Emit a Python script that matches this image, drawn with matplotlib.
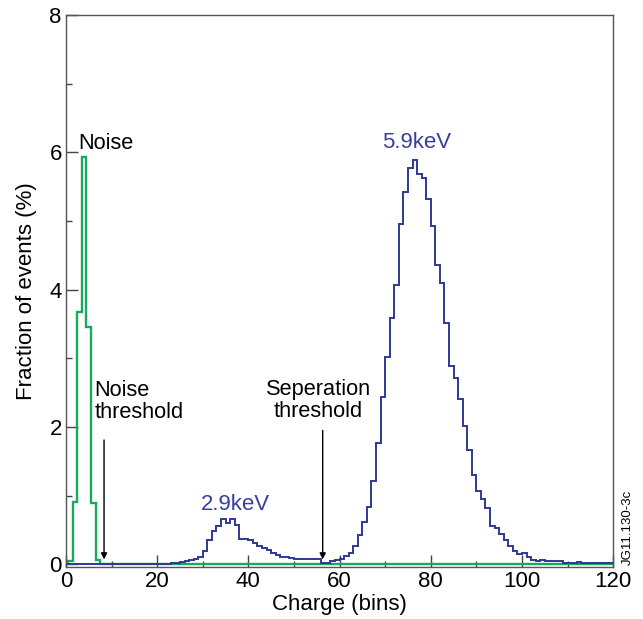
import numpy as np
import matplotlib
matplotlib.use("Agg")
import matplotlib.pyplot as plt
from matplotlib.ticker import MultipleLocator

plt.rcParams['font.family'] = ['Liberation Sans', 'DejaVu Sans']

# ---- data ----
charge_edges = np.arange(0, 121)          # blue histogram bin edges (bins of width 1)
signal = [
    # 0-19
    0.0, 0.0, 0.0, 0.0, 0.0, 0.0, 0.0, 0.0, 0.0, 0.0,
    0.0, 0.0, 0.0, 0.0, 0.0, 0.0, 0.01, 0.01, 0.01, 0.01,
    # 20-39
    0.01, 0.01, 0.01, 0.02, 0.02, 0.03, 0.05, 0.06, 0.08, 0.10,
    0.20, 0.35, 0.48, 0.55, 0.66, 0.60, 0.66, 0.57, 0.37, 0.37,
    # 40-59
    0.35, 0.31, 0.27, 0.24, 0.21, 0.17, 0.14, 0.11, 0.10, 0.09,
    0.08, 0.08, 0.07, 0.07, 0.07, 0.08, 0.02, 0.02, 0.05, 0.06,
    # 60-79
    0.08, 0.12, 0.17, 0.27, 0.42, 0.61, 0.83, 1.21, 1.77, 2.44,
    3.02, 3.58, 4.06, 4.96, 5.42, 5.77, 5.89, 5.68, 5.63, 5.32,
    # 80-99
    4.92, 4.36, 4.09, 3.52, 2.88, 2.71, 2.40, 2.02, 1.67, 1.30,
    1.07, 0.95, 0.82, 0.56, 0.53, 0.44, 0.36, 0.27, 0.19, 0.15,
    # 100-119
    0.16, 0.11, 0.06, 0.05, 0.06, 0.05, 0.05, 0.05, 0.05, 0.02,
    0.02, 0.02, 0.04, 0.02, 0.02, 0.02, 0.02, 0.02, 0.02, 0.02,
]
noise_centers = np.arange(0, 10)           # noise histogram bin centres
noise = [0.0, 0.05, 0.90, 3.68, 5.93, 3.46, 0.89, 0.06, 0.0, 0.0]

x_major = [0, 20, 40, 60, 80, 100, 120]
y_major = [0, 2, 4, 6, 8]

BLUE = '#2f3896'
GREEN = '#1aa85c'
TEXTBLUE = '#3a3f9c'

fig = plt.figure(figsize=(6.43, 6.19), dpi=100)
ax = fig.add_axes([0.1026, 0.084, 0.851, 0.892])

ax.stairs(signal, charge_edges, color=BLUE, lw=1.4, zorder=3)
noise_edges = np.concatenate([noise_centers - 0.5, [120]])
ax.stairs(noise, noise_edges, color=GREEN, lw=1.7, zorder=2)

ax.set_xlim(0, 120)
ax.set_ylim(-0.04, 8)
ax.set_xticks(x_major)
ax.set_yticks(y_major)
ax.xaxis.set_minor_locator(MultipleLocator(10))
ax.yaxis.set_minor_locator(MultipleLocator(1))
ax.tick_params(which='major', direction='in', length=8.5, width=1, labelsize=16, pad=3, color='#444')
ax.tick_params(which='minor', direction='in', length=4.3, width=1, color='#444')
ax.tick_params(top=False, right=False)
for s in ax.spines.values():
    s.set_color('#555555')
    s.set_linewidth(1.0)

ax.set_xlabel('Charge (bins)', fontsize=16, labelpad=1)
ax.set_ylabel('Fraction of events (%)', fontsize=16, labelpad=9)

ax.text(2.7, 6.12, 'Noise', fontsize=15.7, ha='left', va='center')
ax.text(6.3, 2.37, 'Noise\nthreshold', fontsize=15.7, ha='left', va='center', linespacing=1.05)
ax.annotate('', xy=(8.35, 0.03), xytext=(8.35, 1.85),
            arrowprops=dict(arrowstyle='-|>', color='black', lw=1.0, mutation_scale=9))
ax.text(55.3, 2.38, 'Seperation\nthreshold', fontsize=15.7, ha='center', va='center', linespacing=1.05)
ax.annotate('', xy=(56.3, 0.03), xytext=(56.3, 1.99),
            arrowprops=dict(arrowstyle='-|>', color='black', lw=1.0, mutation_scale=9))
ax.text(37.1, 0.87, '2.9keV', fontsize=16, color=TEXTBLUE, ha='center', va='center')
ax.text(77.0, 6.14, '5.9keV', fontsize=16, color=TEXTBLUE, ha='center', va='center')

fig.text(0.976, 0.088, 'JG11.130-3c', rotation=90, fontsize=9.5, ha='center', va='bottom')

fig.savefig('out.png', dpi=100)
